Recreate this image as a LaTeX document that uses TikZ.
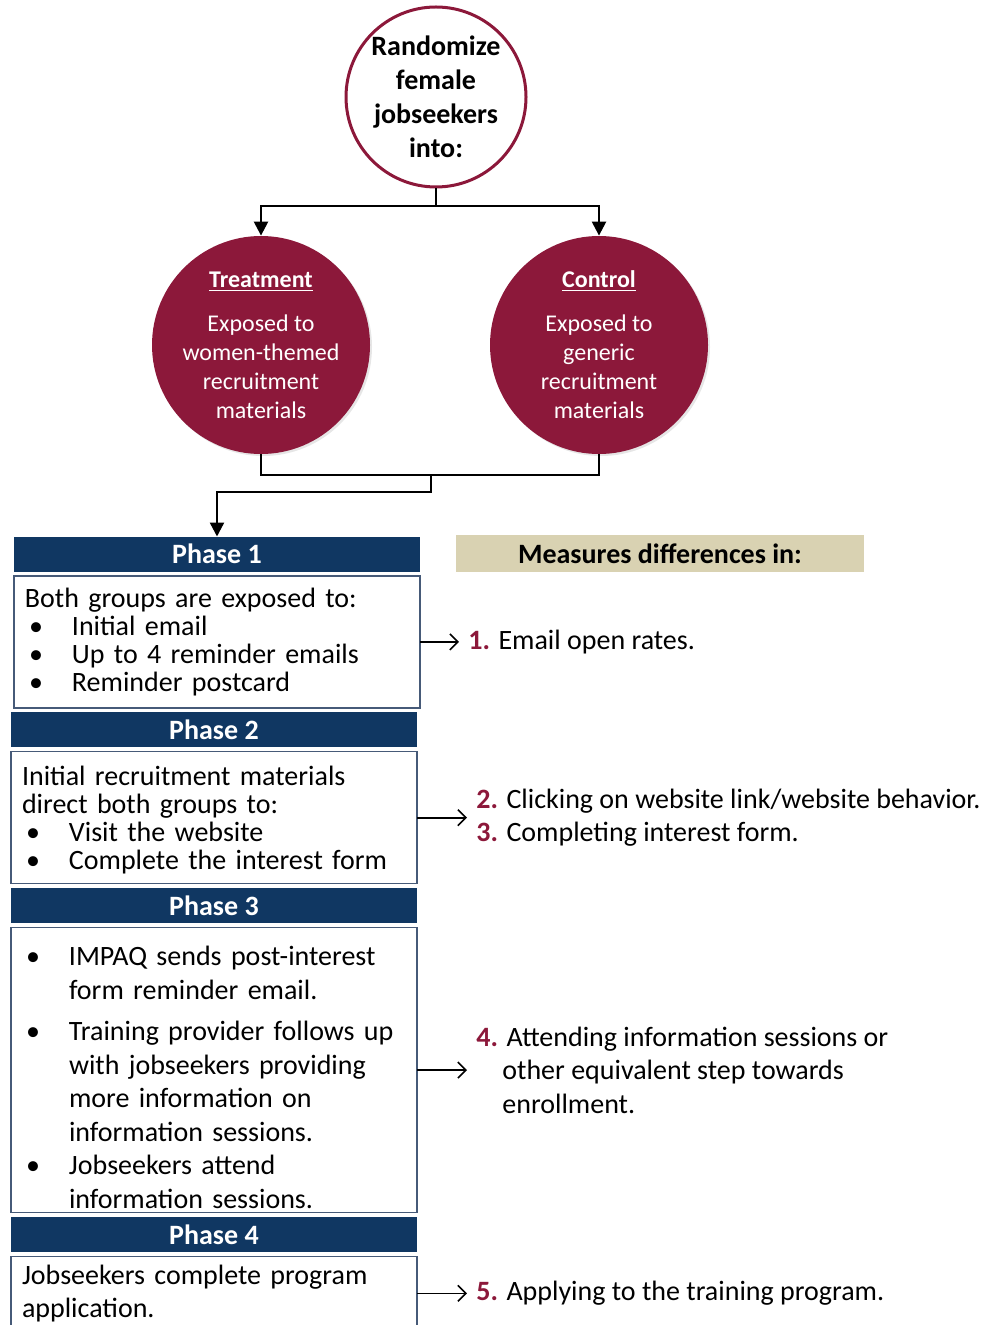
\documentclass[tikz,border=0pt]{standalone}
\usepackage{fontspec}
\setmainfont{Carlito}
\usetikzlibrary{arrows.meta,positioning,shadows}
\definecolor{impaqred}{RGB}{140,24,58}
\definecolor{phasenavy}{RGB}{16,55,98}
\definecolor{tanbox}{RGB}{217,210,178}
\definecolor{bodyline}{RGB}{70,90,120}
\tikzset{
  randcircle/.style={circle, draw=impaqred, line width=1.5pt, fill=white, minimum size=90pt,
    inner sep=0pt, align=center, font=\fontsize{14}{17}\selectfont\bfseries},
  groupcircle/.style={circle, fill=impaqred, text=white, minimum size=109pt, inner sep=0pt,
    align=center, font=\fontsize{12}{14.5}\selectfont,
    drop shadow={opacity=.2, shadow xshift=1pt, shadow yshift=-1pt}},
  phasehead/.style={fill=phasenavy, text=white, minimum width=203pt, minimum height=17.5pt,
    inner sep=0pt, outer sep=0pt, font=\fontsize{14}{16}\selectfont\bfseries},
  phasebody/.style={draw=bodyline, line width=.7pt, text width=192pt, inner xsep=5.5pt,
    inner ysep=0pt, outer sep=0pt, align=left},
  measurehead/.style={fill=tanbox, minimum width=204pt, minimum height=18.5pt, inner sep=0pt,
    font=\fontsize{14}{16}\selectfont\bfseries},
  measure/.style={inner xsep=4.5pt, align=left, font=\fontsize{14}{16.75}\selectfont},
  link/.style={line width=1.2pt},
  tri/.style={-{Triangle[length=7pt,width=7pt]}, line width=1.2pt},
  barb/.style={-{Straight Barb[length=4pt,width=8pt]}, line width=.8pt}
}
\newcommand{\bul}{\makebox[23.5pt][l]{\hspace{2pt}\textbullet}}
\newcommand{\hang}{\hspace*{23.5pt}}
\newcommand{\num}[1]{\textcolor{impaqred}{\bfseries #1}}

\begin{document}
\begin{tikzpicture}[x=0.5pt, y=-0.5pt, node distance=2.2pt]
  \useasboundingbox (0,0) rectangle (986,1325);

  % randomisation
  \node[randcircle] (rand) at (436,97) {Randomize\\female\\jobseekers\\into:};
  \node[groupcircle] (treat) at (261,345) {\underline{\bfseries Treatment}\\[7.5pt]Exposed to\\women-themed\\recruitment\\materials};
  \node[groupcircle] (ctrl) at (599,345) {\underline{\bfseries Control}\\[7.5pt]Exposed to\\generic\\recruitment\\materials};

  % phases
  \node[phasehead] (p1head) at (217,554) {Phase 1};
  \node[phasebody, minimum height=66pt, below=of p1head, font=\fontsize{14}{14}\selectfont] (p1body)
    {Both groups are exposed to:\\
     \bul Initial email\\
     \bul Up to 4 reminder emails\\
     \bul Reminder postcard};
  \node[phasehead, below=of p1body, xshift=-1.5pt] (p2head) {Phase 2};
  \node[phasebody, minimum height=66pt, below=of p2head, font=\fontsize{14}{14}\selectfont] (p2body)
    {\rule{0pt}{12pt}Initial recruitment materials\\
     direct both groups to:\\
     \bul Visit the website\\
     \bul Complete the interest form};
  \node[phasehead, below=of p2body] (p3head) {Phase 3};
  \node[phasebody, minimum height=142.5pt, below=of p3head, font=\fontsize{14}{16.75}\selectfont] (p3body)
    {\rule{0pt}{17pt}\bul IMPAQ sends post-interest\\
     \hang form reminder email.\\[4pt]
     \bul Training provider follows up\\
     \hang with jobseekers providing\\
     \hang more information on\\
     \hang information sessions.\\
     \bul Jobseekers attend\\
     \hang information sessions.};
  \node[phasehead, below=of p3body] (p4head) {Phase 4};
  \node[phasebody, minimum height=37pt, below=of p4head, font=\fontsize{14}{16.25}\selectfont] (p4body)
    {Jobseekers complete program\\
     application.};

  % measures
  \node[measurehead] (mhead) at (660,553.5) {Measures differences in:};
  \node[measure, right=19.5pt of p1body] (m1) {\num{1.} Email open rates.};
  \node[measure, right=25pt of p2body] (m23) {\num{2.} Clicking on website link/website behavior.\\
    \num{3.} Completing interest form.};
  \node[measure, right=25pt of p3body] (m4) {\num{4.} Attending information sessions or\\
    \hspace*{13pt}other equivalent step towards\\
    \hspace*{13pt}enrollment.};
  \node[measure, right=25pt of p4body] (m5) {\num{5.} Applying to the training program.};

  % connectors
  \coordinate (split) at (436,206);
  \coordinate (merge) at (431,475);
  \draw[link] (rand) -- (split);
  \draw[tri] (split) -| (treat);
  \draw[tri] (split) -| (ctrl);
  \draw[link] (treat) |- (merge) -| (ctrl);
  \draw[tri] (merge) -- ++(0,17) -| (p1head);

  \draw[barb] (p1body) -- (m1);
  \draw[barb] (p2body) -- (m23);
  \draw[barb] (p3body) -- (m4);
  \draw[barb] (p4body) -- (m5);
\end{tikzpicture}
\end{document}
